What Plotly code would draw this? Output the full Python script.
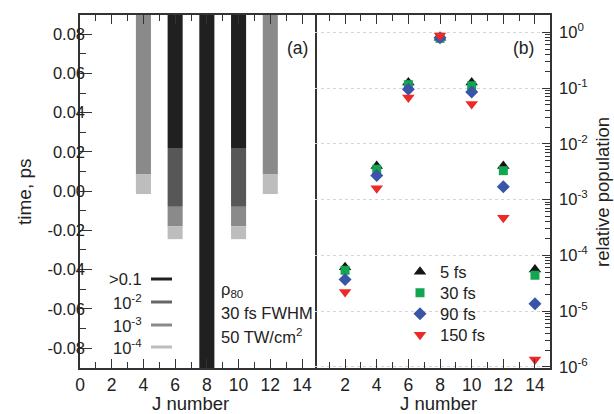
import plotly.graph_objects as go

# ---------------- data ----------------
# Panel (a): time windows (ps) where each J level exceeds a population threshold
J_bar = [4, 6, 8, 10, 12]
lvl_names = [">0.1", "10<sup>-2</sup>", "10<sup>-3</sup>", "10<sup>-4</sup>"]
lvl_colors = ["#202020", "#575757", "#8a8a8a", "#bdbdbd"]
# lower / upper bound of each segment per J (None = no segment)
lvl_lo = [
    [None, 0.022, -0.1, 0.022, None],
    [None, -0.008, None, -0.008, None],
    [0.0085, -0.018, None, -0.018, 0.0085],
    [-0.0015, -0.0245, None, -0.0245, -0.0015],
]
lvl_hi = [
    [None, 0.1, 0.1, 0.1, None],
    [None, 0.022, None, 0.022, None],
    [0.1, -0.008, None, -0.008, 0.1],
    [0.0085, -0.018, None, -0.018, 0.0085],
]
yA_ticks = [-0.08, -0.06, -0.04, -0.02, 0.0, 0.02, 0.04, 0.06, 0.08]
yA_text = ["-0.08", "-0.06", "-0.04", "-0.02", "0.00", "0.02", "0.04", "0.06", "0.08"]
xA_ticks = [0, 2, 4, 6, 8, 10, 12, 14]

# Panel (b): relative population per J for several pulse durations
J_pop = [2, 4, 6, 8, 10, 12, 14]
pop_5fs = [6.1e-5, 4.0e-3, 0.126, 0.80, 0.126, 4.0e-3, 5.6e-5]
pop_30fs = [5.4e-5, 3.5e-3, 0.115, 0.78, 0.110, 3.3e-3, 4.4e-5]
pop_90fs = [3.7e-5, 2.7e-3, 0.095, 0.80, 0.085, 1.7e-3, 1.36e-5]
pop_150fs = [2.2e-5, 1.6e-3, 0.068, 0.88, 0.052, 4.7e-4, 1.35e-6]
series_names = ["5 fs", "30 fs", "90 fs", "150 fs"]
series_colors = ["#151515", "#12a650", "#3a55a6", "#ee2a26"]
series_symbols = ["triangle-up", "square", "diamond", "triangle-down"]
series_sizes = [11, 9, 10, 11]
yB_ticks = [1e0, 1e-1, 1e-2, 1e-3, 1e-4, 1e-5, 1e-6]
yB_text = ["10<sup>0</sup>", "10<sup>-1</sup>", "10<sup>-2</sup>", "10<sup>-3</sup>",
           "10<sup>-4</sup>", "10<sup>-5</sup>", "10<sup>-6</sup>"]
xB_ticks = [2, 4, 6, 8, 10, 12, 14]

FONT = "Liberation Sans, Arial, sans-serif"
W, H = 614, 414
ML, MR, MT, MB = 80, 64, 15, 46
PW, PH = W - ML - MR, H - MT - MB
YA_RANGE = [-0.0902, 0.0898]


def px(x):
    return (x - ML) / PW


def py(y):
    return (H - MB - y) / PH


fig = go.Figure()

# bars of panel (a); y and y3 share exactly the same scale (y3 only carries the tick labels)
bar_axes = ["y", "y3", "y3", "y3"]
for name, col, lo, hi, yax in zip(lvl_names, lvl_colors, lvl_lo, lvl_hi, bar_axes):
    xs, bases, hs = [], [], []
    for j, a, b in zip(J_bar, lo, hi):
        if a is None:
            continue
        xs.append(j)
        bases.append(a)
        hs.append(b - a)
    fig.add_trace(go.Bar(x=xs, y=hs, base=bases, width=0.95, marker=dict(color=col, line=dict(width=0)),
                         showlegend=False, xaxis="x", yaxis=yax, hoverinfo="skip"))

# markers of panel (b)
legend_rows = [272, 293, 314, 335]
for i, (name, vals, col, sym, sz) in enumerate(zip(series_names, [pop_5fs, pop_30fs, pop_90fs, pop_150fs],
                                                   series_colors, series_symbols, series_sizes)):
    fig.add_trace(go.Scatter(x=J_pop, y=vals, mode="markers", name=name,
                             legend="legend" if i == 0 else f"legend{i + 1}",
                             marker=dict(color=col, symbol=sym, size=sz, line=dict(width=0)),
                             xaxis="x2", yaxis="y2"))

axcol = "#333333"
common = dict(showline=True, linecolor=axcol, linewidth=1.5, ticks="inside", tickcolor=axcol,
              tickwidth=1.2, zeroline=False, showgrid=False)

layout_legends = {}
for i, yy in enumerate(legend_rows):
    key = "legend" if i == 0 else f"legend{i + 1}"
    layout_legends[key] = dict(x=px(400), y=py(yy), xanchor="left", yanchor="middle",
                               bgcolor="rgba(0,0,0,0)", font=dict(size=16.5), itemsizing="trace")

fig.update_layout(
    width=W, height=H,
    margin=dict(l=ML, r=MR, t=MT, b=MB),
    paper_bgcolor="white", plot_bgcolor="white",
    barmode="overlay",
    font=dict(family=FONT, size=16.5, color="#222"),
    xaxis=dict(domain=[0, 0.5], range=[0, 14.82], anchor="y", tickmode="array", tickvals=xA_ticks,
               ticklen=9, mirror="ticks", tickfont=dict(size=17.5),
               minor=dict(tickmode="linear", tick0=0, dtick=1, ticks="inside", ticklen=6, tickcolor=axcol),
               **common),
    # left axis: line + ticks
    yaxis=dict(domain=[0, 1], range=YA_RANGE, anchor="x", tickmode="array", tickvals=yA_ticks,
               ticklen=12, mirror=True, showticklabels=False,
               minor=dict(tickmode="linear", tick0=0, dtick=0.01, ticks="inside", ticklen=6, tickcolor=axcol),
               **common),
    # same scale, carries the tick labels slightly closer to the axis line
    yaxis3=dict(overlaying="y", range=YA_RANGE, anchor="free", position=0, side="left",
                autoshift=False, shift=5, tickmode="array", tickvals=yA_ticks, ticktext=yA_text,
                ticks="", showline=False, showgrid=False, zeroline=False, tickfont=dict(size=16.5)),
    xaxis2=dict(domain=[0.5, 1], range=[0.1, 14.95], anchor="y2", tickmode="array", tickvals=xB_ticks,
                ticklen=9, mirror="ticks", tickfont=dict(size=17.5),
                minor=dict(tickmode="linear", tick0=0, dtick=1, ticks="inside", ticklen=6, tickcolor=axcol),
                **common),
    yaxis2=dict(domain=[0, 1], type="log", range=[-6.02, 0.31], anchor="x2", side="right",
                tickmode="array", tickvals=yB_ticks, ticktext=yB_text, ticklen=8, mirror=False,
                tickfont=dict(size=16.5), ticklabelstandoff=4,
                minor=dict(tickmode="array",
                           tickvals=[k * 10 ** d for d in range(-6, 1) for k in range(2, 10)],
                           ticks="inside", ticklen=5, tickcolor=axcol),
                showline=True, linecolor=axcol, linewidth=1.5, ticks="inside", tickcolor=axcol,
                tickwidth=1.2, zeroline=False,
                showgrid=True, gridcolor="#d6d6d6", griddash="3px,3px", gridwidth=1),
    showlegend=True,
    **layout_legends,
)

ann = []
C = dict(xref="paper", yref="paper", showarrow=False, yanchor="middle")
ann.append(dict(text="(a)", x=px(297), y=py(48), xanchor="center", font=dict(size=17.5), **C))
ann.append(dict(text="(b)", x=px(523), y=py(48), xanchor="center", font=dict(size=17.5), **C))
for t, yy in zip(["ρ<sub>80</sub>", "30 fs FWHM", "50 TW/cm<sup>2</sup>"], [290, 313, 336]):
    ann.append(dict(text=t, x=px(219), y=py(yy), xanchor="left", font=dict(size=16.5), **C))
shapes = []
for name, col, yy in zip(lvl_names, ["#202020", "#666666", "#8a8a8a", "#bdbdbd"], [279, 302, 325, 347]):
    ann.append(dict(text=name, x=px(144), y=py(yy), xanchor="right", font=dict(size=16.5), **C))
    shapes.append(dict(type="line", xref="paper", yref="paper", x0=px(151), x1=px(172),
                       y0=py(yy), y1=py(yy), line=dict(color=col, width=3)))
ann.append(dict(text="J number", x=px(190), y=py(403), xanchor="center", font=dict(size=18.5), **C))
ann.append(dict(text="J number", x=px(438), y=py(403), xanchor="center", font=dict(size=18.5), **C))
ann.append(dict(text="time, ps", x=px(24), y=py(192), xanchor="center", textangle=-90,
                font=dict(size=19), **C))
ann.append(dict(text="relative population", x=px(602), y=py(192), xanchor="center", textangle=-90,
                font=dict(size=18.5), **C))
fig.update_layout(annotations=ann, shapes=shapes)

fig.write_html("out.html")
